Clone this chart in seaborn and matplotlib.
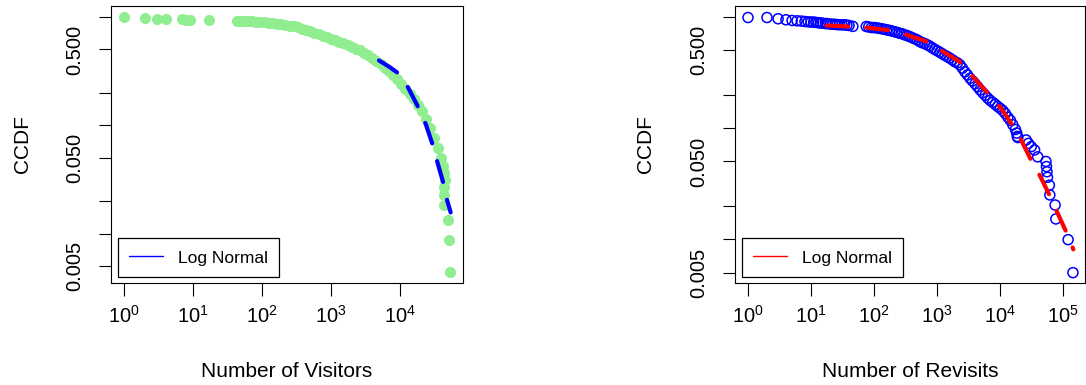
import matplotlib
matplotlib.use("Agg")
import matplotlib.pyplot as plt
from matplotlib.lines import Line2D
import seaborn as sns
import pandas as pd

# ---------------- data ----------------
visitors_x = [1, 2, 3, 4, 7, 8, 9, 17, 43, 48, 55, 63, 72, 83, 95, 110, 126, 145,
              166, 190, 219, 251, 288, 331, 380, 437, 501, 575, 660, 759, 871, 1000,
              1150, 1320, 1510, 1740, 2000, 2290, 2630, 3020, 3470, 3980, 4570, 5250,
              6030, 6920, 7940, 9120, 10500, 12000, 13800, 15800, 18200, 20900, 24000,
              27500, 31600, 35500, 38900, 41700, 43700, 44700, 44000, 43500, 43800,
              50200, 51900, 53100]
visitors_ccdf = [1.0, 0.975, 0.96, 0.96, 0.955, 0.945, 0.94, 0.935, 0.925, 0.922, 0.92,
                 0.915, 0.91, 0.905, 0.90, 0.89, 0.88, 0.87, 0.86, 0.85, 0.84, 0.83,
                 0.815, 0.80, 0.78, 0.76, 0.735, 0.71, 0.69, 0.67, 0.65, 0.63, 0.61,
                 0.59, 0.57, 0.55, 0.53, 0.51, 0.49, 0.465, 0.44, 0.415, 0.39, 0.365,
                 0.34, 0.315, 0.29, 0.265, 0.24, 0.215, 0.195, 0.175, 0.155, 0.135,
                 0.115, 0.095, 0.077, 0.062, 0.05, 0.042, 0.036, 0.031, 0.027, 0.0225,
                 0.0185, 0.0133, 0.0088, 0.0044]

lognorm_vis_x = [4960, 7050, 10000, 13200, 19000, 23600, 30400, 35200, 43400, 48500, 54300]
lognorm_vis_y = [0.396, 0.345, 0.294, 0.221, 0.141, 0.103, 0.0636, 0.0447, 0.0281, 0.0201, 0.0157]

revisits_x = [1, 2, 3, 4, 5, 6, 7, 8, 9, 10, 11, 12, 13, 14, 15, 17, 18, 20, 22, 24, 26,
              28, 31, 34, 37, 40, 46,
              75, 82, 91, 100, 110, 120, 132, 145, 158, 174, 190, 209, 229, 251, 275,
              302, 331, 363, 398, 437, 479, 525, 575, 631, 692, 759, 832, 912, 1000,
              1100, 1200, 1320, 1450, 1580, 1740, 1900, 2090, 2290, 2510, 2750, 3020,
              3310, 3630, 3980, 4370, 4790, 5250, 5750, 6310, 6920, 7590, 8320, 9120,
              10000, 11000, 12000, 13200, 14500, 15800, 17400, 18200, 18600, 19000,
              25700, 28000, 31000, 35000, 39200, 53000, 54000, 55000, 56000, 60000,
              61000, 74000, 76000, 119000, 142000]
revisits_ccdf = [0.985, 0.985, 0.96, 0.94, 0.926, 0.92, 0.915, 0.907, 0.90, 0.898, 0.896,
                 0.89, 0.885, 0.88, 0.877, 0.87, 0.868, 0.86, 0.857, 0.855, 0.851,
                 0.848, 0.847, 0.847, 0.84, 0.835, 0.82,
                 0.818, 0.81, 0.80, 0.80, 0.795, 0.787, 0.78, 0.772, 0.763, 0.755,
                 0.745, 0.735, 0.725, 0.712, 0.705, 0.69, 0.678, 0.665, 0.65, 0.635,
                 0.62, 0.60, 0.585, 0.575, 0.56, 0.545, 0.527, 0.51, 0.495, 0.48,
                 0.465, 0.45, 0.438, 0.425, 0.41, 0.395, 0.385, 0.37, 0.345, 0.32,
                 0.30, 0.28, 0.265, 0.25, 0.235, 0.22, 0.208, 0.197, 0.186, 0.177,
                 0.17, 0.163, 0.156, 0.15, 0.143, 0.135, 0.125, 0.117, 0.107, 0.097,
                 0.09, 0.084, 0.082, 0.078, 0.0727, 0.068, 0.0634, 0.055, 0.05, 0.045,
                 0.0404, 0.036, 0.0306, 0.025, 0.0203, 0.0152, 0.0099, 0.005]

lognorm_rev_x = [17.6, 46.4, 75, 188, 324, 758, 1230, 2260, 3670, 6740, 10300, 16800,
                 21400, 32700, 42800, 63800, 79400, 117000, 144000]
lognorm_rev_y = [0.835, 0.813, 0.80, 0.753, 0.689, 0.587, 0.487, 0.396, 0.29, 0.198,
                 0.15, 0.0994, 0.078, 0.048, 0.037, 0.0233, 0.0176, 0.0109, 0.0081]

x_tick_values_vis = [1, 10, 100, 1000, 10000]
x_tick_labels_vis = [r"$\mathdefault{10^{0}}$", r"$\mathdefault{10^{1}}$", r"$\mathdefault{10^{2}}$",
                     r"$\mathdefault{10^{3}}$", r"$\mathdefault{10^{4}}$"]
x_tick_values_rev = [1, 10, 100, 1000, 10000, 100000]
x_tick_labels_rev = x_tick_labels_vis + [r"$\mathdefault{10^{5}}$"]
y_tick_values = [1.0, 0.5, 0.2, 0.1, 0.05, 0.02, 0.01, 0.005]
y_tick_labels = ["", "0.500", "", "", "0.050", "", "", "0.005"]

x_label_vis = "Number of Visitors"
x_label_rev = "Number of Revisits"
y_label = "CCDF"
legend_label = "Log Normal"

# ---------------- style ----------------
sns.set_theme(style="ticks", rc={
    "axes.edgecolor": "black", "axes.linewidth": 0.8,
    "xtick.color": "black", "ytick.color": "black",
    "text.color": "black", "axes.labelcolor": "black",
    "xtick.major.size": 9, "ytick.major.size": 9,
    "xtick.major.width": 0.8, "ytick.major.width": 0.8,
    "xtick.minor.size": 0, "ytick.minor.size": 0,
    "mathtext.default": "regular",
})
plt.rcParams["font.family"] = ["Liberation Sans", "DejaVu Sans"]

fig = plt.figure(figsize=(10.86, 3.85), dpi=100)
W, H = 1086.0, 385.0
ax1 = fig.add_axes([111 / W, 1 - 283 / H, 352 / W, 277 / H])
ax2 = fig.add_axes([735 / W, 1 - 283 / H, 350.3 / W, 277 / H])

df_vis = pd.DataFrame({"x": visitors_x, "y": visitors_ccdf})
df_lnv = pd.DataFrame({"x": lognorm_vis_x, "y": lognorm_vis_y})
df_rev = pd.DataFrame({"x": revisits_x, "y": revisits_ccdf})
df_lnr = pd.DataFrame({"x": lognorm_rev_x, "y": lognorm_rev_y})

# left panel
sns.scatterplot(data=df_vis, x="x", y="y", ax=ax1, color="#90EE90", s=64,
                linewidth=0, zorder=2, legend=False)
sns.lineplot(data=df_lnv, x="x", y="y", ax=ax1, color="blue", lw=3.0,
             estimator=None, sort=False, zorder=3, legend=False)
ln = ax1.lines[-1]
ln.set_dashes([5.2, 4.4])
ln.set_dash_capstyle("round")

# right panel
sns.scatterplot(data=df_rev, x="x", y="y", ax=ax2, color="blue", s=52,
                linewidth=1.1, zorder=2, legend=False)
coll = ax2.collections[-1]
coll.set_facecolor("none")
coll.set_edgecolor("blue")
sns.lineplot(data=df_lnr, x="x", y="y", ax=ax2, color="red", lw=3.0,
             estimator=None, sort=False, zorder=3, legend=False)
ln = ax2.lines[-1]
ln.set_dashes([5.2, 4.4])
ln.set_dash_capstyle("round")

panels = [
    (ax1, 10 ** -0.189, 10 ** 4.914, 10 ** -2.455, 10 ** 0.10, x_tick_values_vis,
     x_tick_labels_vis, x_label_vis, "blue", -0.2528),
    (ax2, 10 ** -0.206, 10 ** 5.348, 10 ** -2.394, 10 ** 0.097, x_tick_values_rev,
     x_tick_labels_rev, x_label_rev, "red", -0.2564),
]
for ax, x0, x1, y0, y1, xt, xtl, xl, lc, ylx in panels:
    ax.set_xscale("log")
    ax.set_yscale("log")
    ax.set_xlim(x0, x1)
    ax.set_ylim(y0, y1)
    ax.set_xticks(xt)
    ax.set_xticklabels(xtl, fontsize=14.5)
    ax.set_yticks(y_tick_values)
    ax.set_yticklabels(y_tick_labels, fontsize=14.5, rotation=90, va="center")
    ax.minorticks_off()
    ax.tick_params(axis="x", pad=7)
    ax.tick_params(axis="y", pad=10)
    for s in ax.spines.values():
        s.set_visible(True)
        s.set_color("black")
        s.set_linewidth(0.8)
    ax.set_xlabel(xl, fontsize=15, va="center")
    ax.xaxis.set_label_coords(0.5, -0.321)
    ax.set_ylabel(y_label, fontsize=15, va="center")
    ax.yaxis.set_label_coords(ylx, 0.5)
    handle = Line2D([], [], color=lc, lw=1.0)
    leg = ax.legend([handle], [legend_label], loc="lower left",
                    bbox_to_anchor=(0.02, 0.022), borderaxespad=0, fontsize=12.5,
                    frameon=True, fancybox=False, edgecolor="black",
                    handlelength=1.95, handleheight=1.1, handletextpad=0.9,
                    borderpad=0.62)
    leg.get_frame().set_linewidth(0.9)
    leg.get_frame().set_alpha(1)

fig.savefig("out.png", dpi=100)
